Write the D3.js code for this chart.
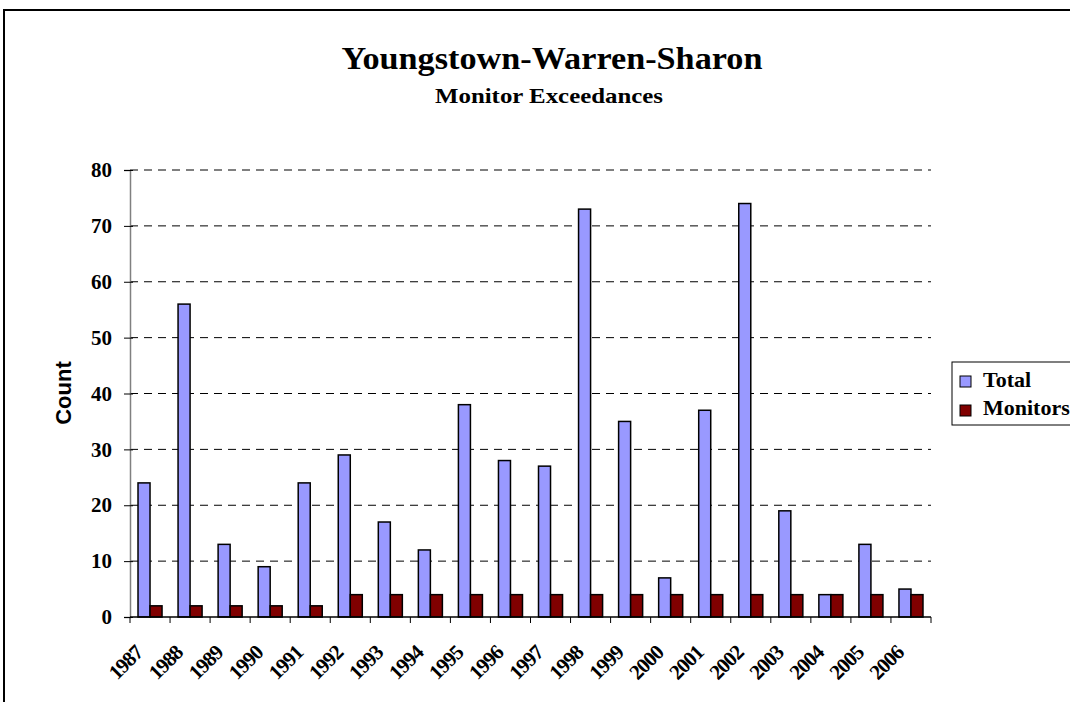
<!DOCTYPE html>
<html>
<head>
<meta charset="utf-8">
<script src="https://cdn.jsdelivr.net/npm/d3@7"></script>
<style>
  body { margin: 0; background: #fff; }
  svg text { font-family: "Liberation Serif", "Times New Roman", serif; font-weight: bold; }
</style>
</head>
<body>
<div id="chart-area"></div>
<script>
var years = ["1987", "1988", "1989", "1990", "1991", "1992", "1993", "1994", "1995", "1996",
             "1997", "1998", "1999", "2000", "2001", "2002", "2003", "2004", "2005", "2006"];
var totalValues = [24, 56, 13, 9, 24, 29, 17, 12, 38, 28, 27, 73, 35, 7, 37, 74, 19, 4, 13, 5];
var monitorValues = [2, 2, 2, 2, 2, 4, 4, 4, 4, 4, 4, 4, 4, 4, 4, 4, 4, 4, 4, 4];
var seriesNames = ["Total", "Monitors"];
var yTicks = [0, 10, 20, 30, 40, 50, 60, 70, 80];

var colors = ["#9999FF", "#800000"];
var margin = {top: 170, left: 130};
var width = 801;
var height = 447;

var svg = d3.select("#chart-area")
    .append("svg")
        .attr("width", 1070)
        .attr("height", 702);

// outer frame
svg.append("rect")
    .attr("x", 4).attr("y", 10)
    .attr("width", 1080).attr("height", 710)
    .attr("fill", "none")
    .attr("stroke", "#000")
    .attr("stroke-width", 2);

svg.append("text")
    .attr("x", 552).attr("y", 69)
    .attr("text-anchor", "middle")
    .attr("font-size", "32px")
    .attr("textLength", 421)
    .attr("lengthAdjust", "spacingAndGlyphs")
    .text("Youngstown-Warren-Sharon");

svg.append("text")
    .attr("x", 549).attr("y", 103)
    .attr("text-anchor", "middle")
    .attr("font-size", "21px")
    .attr("textLength", 228)
    .attr("lengthAdjust", "spacingAndGlyphs")
    .text("Monitor Exceedances");

var g = svg.append("g")
    .attr("transform", "translate(" + margin.left + ", " + margin.top + ")");

var x = d3.scaleBand()
    .domain(years)
    .range([0, width])
    .paddingInner(0.4)
    .paddingOuter(0.2);

var x1 = d3.scaleBand()
    .domain(seriesNames)
    .range([0, x.bandwidth()]);

var y = d3.scaleLinear()
    .domain([0, 80])
    .range([height, 0]);

// dashed gridlines
g.selectAll(".grid")
    .data(yTicks.slice(1))
    .enter()
    .append("line")
        .attr("x1", 0).attr("x2", width)
        .attr("y1", (d) => y(d)).attr("y2", (d) => y(d))
        .attr("stroke", "#000")
        .attr("stroke-dasharray", "8,6");

var data = years.map((d, i) => ({year: d, values: [totalValues[i], monitorValues[i]]}));

var groups = g.selectAll(".year")
    .data(data)
    .enter()
    .append("g")
        .attr("transform", (d) => "translate(" + x(d.year) + ",0)");

groups.selectAll("rect")
    .data((d) => d.values.map((v, i) => ({name: seriesNames[i], value: v, i: i})))
    .enter()
    .append("rect")
        .attr("x", (d) => x1(d.name))
        .attr("y", (d) => y(d.value))
        .attr("width", x1.bandwidth())
        .attr("height", (d) => height - y(d.value))
        .attr("fill", (d) => colors[d.i])
        .attr("stroke", "#000")
        .attr("stroke-width", 1.5);

// y axis
var leftAxis = d3.axisLeft(y).tickValues(yTicks).tickSize(6).tickPadding(12);
var ya = g.append("g").call(leftAxis);
ya.select(".domain").attr("stroke", "#808080").attr("stroke-width", 1.5);
ya.selectAll(".tick line").attr("stroke", "#000").attr("x2", 3).attr("x1", -6);
ya.selectAll("text").attr("font-size", "21px").attr("fill", "#000");

// x axis
var xEdges = d3.range(years.length + 1).map((i) => i * width / years.length);
var xa = g.append("g").attr("transform", "translate(0," + height + ")");
xa.append("line")
    .attr("x1", 0).attr("x2", width)
    .attr("stroke", "#000").attr("stroke-width", 1.5);
xa.selectAll(".xtick")
    .data(xEdges)
    .enter()
    .append("line")
        .attr("x1", (d) => d).attr("x2", (d) => d)
        .attr("y1", 0).attr("y2", 6)
        .attr("stroke", "#000");
xa.selectAll(".xlabel")
    .data(years)
    .enter()
    .append("text")
        .attr("text-anchor", "end")
        .attr("font-size", "21px")
        .attr("letter-spacing", "-1px")
        .attr("transform", (d) => "translate(" + (x(d) + x.bandwidth() / 2 - 6) + ",37) rotate(-45)")
        .text((d) => d);

svg.append("text")
    .attr("transform", "translate(71,393) rotate(-90)")
    .attr("text-anchor", "middle")
    .style("font-family", "'Liberation Sans', Arial, sans-serif")
    .attr("font-size", "22px")
    .text("Count");

// legend
var legend = svg.append("g").attr("transform", "translate(952,362)");
legend.append("rect")
    .attr("width", 130).attr("height", 63)
    .attr("fill", "#fff").attr("stroke", "#000").attr("stroke-width", 1);
seriesNames.forEach((name, i) => {
    legend.append("rect")
        .attr("x", 8).attr("y", 14 + i * 29)
        .attr("width", 11).attr("height", 11)
        .attr("fill", colors[i]).attr("stroke", "#000").attr("stroke-width", 1);
    legend.append("text")
        .attr("x", 31).attr("y", 25 + i * 28)
        .attr("font-size", "22px")
        .text(name);
});
</script>
</body>
</html>
